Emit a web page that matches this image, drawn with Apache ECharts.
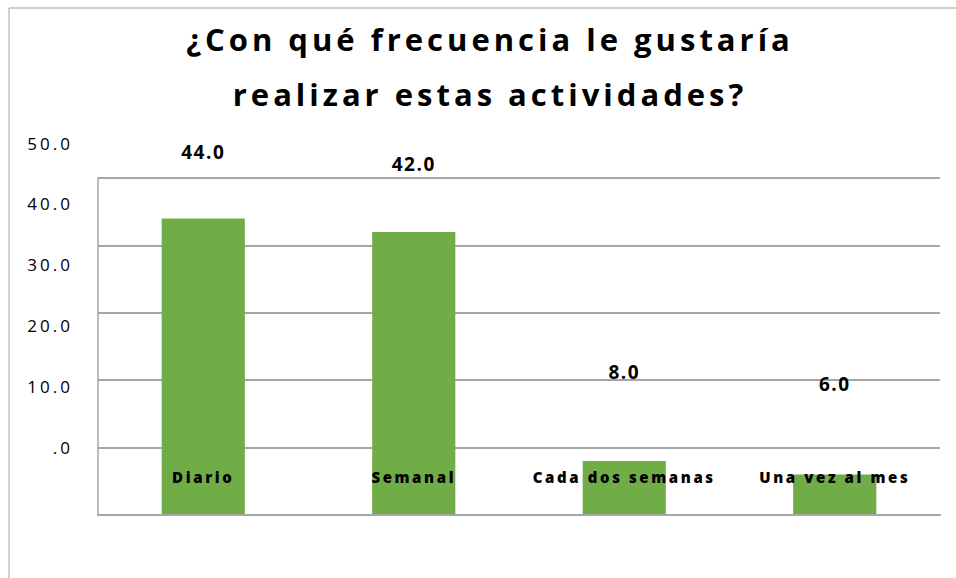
<!DOCTYPE html>
<html><head><meta charset="utf-8">
<script src="https://cdn.jsdelivr.net/npm/echarts@6/dist/echarts.min.js"></script>
<style>html,body{margin:0;padding:0;background:#fff}#c{width:956px;height:578px}</style>
</head><body><div id="c"></div>
<script>
const titleText = '¿Con qué frecuencia le gustaría\nrealizar estas actividades?';
const categories = ['Diario', 'Semanal', 'Cada dos semanas', 'Una vez al mes'];
const values = [44.0, 42.0, 8.0, 6.0];
const yMin = 0, yMax = 50, yStep = 10;

// style: per-bar label lift (px), as rendered in the reference
const labelLift = [57, 58, 80, 81];
const FONT = '"Open Sans", "Noto Sans", sans-serif';
const GRID_C = '#a6a6a6';
const TITLE_CX = 488;

const chart = echarts.init(document.getElementById('c'), null, {renderer: 'svg'});
chart.setOption({
  animation: false,
  backgroundColor: '#fff',
  title: {
    text: titleText,
    left: 'center',
    top: 6,
    textStyle: {fontFamily: FONT, fontSize: 31, fontWeight: 'bold', color: '#000', lineHeight: 55}
  },
  graphic: [{
    type: 'rect', silent: true, z: -1,
    shape: {x: 9, y: 8, width: 1200, height: 1200},
    style: {fill: 'none', stroke: '#a0a0a0', lineWidth: 1}
  }],
  grid: [
    {left: 98, right: 16, top: 178, bottom: 63},
    {left: 98, right: 16, top: 143, bottom: 131}
  ],
  xAxis: [{
    type: 'category', gridIndex: 0, data: categories, z: 5,
    axisLine: {show: true, lineStyle: {color: GRID_C, width: 2}},
    axisTick: {show: false},
    axisLabel: {margin: -46, interval: 0, fontFamily: FONT, fontSize: 15, fontWeight: 800, color: '#000'}
  }, {
    type: 'category', gridIndex: 1, data: categories, show: false
  }],
  yAxis: [{
    type: 'value', gridIndex: 0, min: yMin, max: yMax, interval: yStep,
    axisLine: {show: true, lineStyle: {color: GRID_C, width: 1.5}},
    axisTick: {show: false},
    axisLabel: {show: false},
    splitLine: {show: true, lineStyle: {color: GRID_C, width: 2}}
  }, {
    type: 'value', gridIndex: 1, min: yMin, max: yMax, interval: yStep,
    axisLine: {show: false}, axisTick: {show: false}, splitLine: {show: false},
    axisLabel: {
      margin: 25, fontFamily: FONT, fontSize: 17, color: '#000',
      formatter: v => v === 0 ? '.0' : v.toFixed(1)
    }
  }],
  series: [{
    type: 'bar', xAxisIndex: 0, yAxisIndex: 0,
    barWidth: '39.5%',
    itemStyle: {color: '#70ad47'},
    data: values.map((v, i) => ({
      value: v,
      label: {show: true, position: 'top', distance: labelLift[i]}
    })),
    label: {
      formatter: p => p.value.toFixed(1),
      fontFamily: FONT, fontSize: 19, fontWeight: 'bold', color: '#000'
    }
  }]
});

// letter spacing like the reference's rendering
document.querySelectorAll('#c svg text').forEach(t => {
  const cs = getComputedStyle(t);
  const fs = parseFloat(cs.fontSize);
  const bold = parseInt(cs.fontWeight) >= 600 || cs.fontWeight === 'bold';
  let ls = 0;
  if (fs >= 24) ls = 4;
  else if (fs >= 18 && bold) ls = 1.5;
  else if (bold) ls = 2.6;
  else ls = 3;
  t.setAttribute('letter-spacing', ls + 'px');
  if (fs >= 24) {
    const r = t.getBoundingClientRect();
    const host = document.getElementById('c').getBoundingClientRect();
    const cx = r.left - host.left + (r.width - ls) / 2;
    const x = parseFloat(t.getAttribute('x') || '0');
    t.setAttribute('x', x + (TITLE_CX - cx));
  }
});
</script>
</body></html>
